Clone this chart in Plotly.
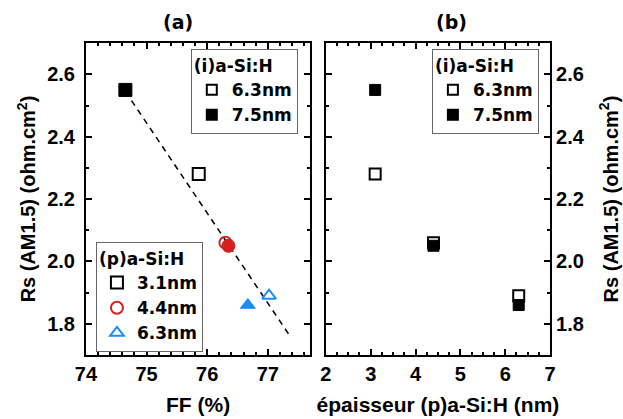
import plotly.graph_objects as go

# ---- data ----
ff_63 = [75.86, 76.30, 77.02]      # (i)a-Si:H 6.3nm, p-layers 3.1 / 4.4 / 6.3 nm
rs_63 = [2.28, 2.06, 1.89]
ff_75 = [74.65, 76.35, 76.67]      # (i)a-Si:H 7.5nm
rs_75 = [2.55, 2.05, 1.86]
p_thick = [3.1, 4.4, 6.3]          # (p)a-Si:H thickness (nm)
p_labels = ["3.1nm", "4.4nm", "6.3nm"]
p_colors = ["#000000", "#D42020", "#1E8CFF"]
p_symbols = ["square", "circle", "triangle-up"]
fit_ff = [74.65, 77.35]
fit_rs = [2.545, 1.765]

FONT = "Liberation Sans, Arial, sans-serif"
FONT2 = "DejaVu Sans, Verdana, sans-serif"

fig = go.Figure()

# dashed trend line (left panel)
fig.add_trace(go.Scatter(x=fit_ff, y=fit_rs, mode="lines",
                         line=dict(color="black", width=1.5, dash="6px,5px"),
                         showlegend=False, xaxis="x", yaxis="y"))

# left panel points
for i in range(3):
    fig.add_trace(go.Scatter(x=[ff_63[i]], y=[rs_63[i]], mode="markers",
                             marker=dict(symbol=p_symbols[i] + "-open", size=12,
                                         color=p_colors[i], line=dict(width=2, color=p_colors[i])),
                             showlegend=False, xaxis="x", yaxis="y"))
    fig.add_trace(go.Scatter(x=[ff_75[i]], y=[rs_75[i]], mode="markers",
                             marker=dict(symbol=p_symbols[i], size=13,
                                         color=p_colors[i], line=dict(width=1, color=p_colors[i])),
                             showlegend=False, xaxis="x", yaxis="y"))

# right panel points
fig.add_trace(go.Scatter(x=p_thick, y=rs_63, mode="markers",
                         marker=dict(symbol="square-open", size=11, color="black",
                                     line=dict(width=2, color="black")),
                         showlegend=False, xaxis="x2", yaxis="y2"))
fig.add_trace(go.Scatter(x=p_thick, y=rs_75, mode="markers",
                         marker=dict(symbol="square", size=11, color="black",
                                     line=dict(width=1, color="black")),
                         showlegend=False, xaxis="x2", yaxis="y2"))

# legend-only traces
for lg in ["legend", "legend3"]:
    fig.add_trace(go.Scatter(x=[None], y=[None], mode="markers", name="6.3nm",
                             marker=dict(symbol="square-open", size=10, color="black",
                                         line=dict(width=2, color="black")),
                             legend=lg, xaxis="x", yaxis="y"))
    fig.add_trace(go.Scatter(x=[None], y=[None], mode="markers", name="7.5nm",
                             marker=dict(symbol="square", size=12, color="black"),
                             legend=lg, xaxis="x", yaxis="y"))
for i in range(3):
    fig.add_trace(go.Scatter(x=[None], y=[None], mode="markers", name=p_labels[i],
                             marker=dict(symbol=p_symbols[i] + "-open", size=12,
                                         color=p_colors[i], line=dict(width=2, color=p_colors[i])),
                             legend="legend2", xaxis="x", yaxis="y"))

axis_common = dict(showline=True, linewidth=2, linecolor="black", mirror="ticks",
                   ticks="inside", ticklen=6, tickwidth=2, tickcolor="black",
                   showgrid=False, zeroline=False, automargin=False,
                   tickfont=dict(family=FONT, size=20, color="black", weight="bold"))

xtitle_font = dict(family=FONT, size=21, color="black", weight="bold")
ytitle_font = dict(family=FONT, size=20, color="black", weight="bold")
ytitle = "Rs (AM1.5) (ohm.cm<sup>2</sup>)"

legend_font = dict(family=FONT2, size=17, color="black", weight="bold")
legend_common = dict(bgcolor="white", bordercolor="#666666", borderwidth=1,
                     font=legend_font, tracegroupgap=0, itemsizing="trace",
                     itemwidth=30)

fig.update_layout(
    width=623, height=419,
    margin=dict(l=0, r=0, t=0, b=0, autoexpand=False),
    paper_bgcolor="white", plot_bgcolor="white",
    xaxis=dict(domain=[0.138, 0.498], range=[74, 77.7], dtick=1, anchor="y",
               minor=dict(dtick=0.2, ticks="inside", ticklen=3, tickwidth=1.5, tickcolor="black"),
               title=dict(text="FF (%)", font=xtitle_font, standoff=13), **axis_common),
    yaxis=dict(domain=[0.153, 0.897], range=[1.7, 2.7], dtick=0.2, tickformat=".1f", anchor="x",
               ticklabelstandoff=5,
               minor=dict(dtick=0.1, ticks="inside", ticklen=3, tickwidth=1.5, tickcolor="black"),
               title=dict(text=ytitle, font=ytitle_font, standoff=6), **axis_common),
    xaxis2=dict(domain=[0.523, 0.883], range=[2, 7], dtick=1, anchor="y2",
                minor=dict(dtick=0.25, ticks="inside", ticklen=3, tickwidth=1.5, tickcolor="black"),
                title=dict(text="épaisseur (p)a-Si:H (nm)", font=xtitle_font, standoff=13), **axis_common),
    yaxis2=dict(domain=[0.153, 0.897], range=[1.7, 2.7], dtick=0.2, tickformat=".1f",
                anchor="x2", side="right",
                minor=dict(dtick=0.1, ticks="inside", ticklen=3, tickwidth=1.5, tickcolor="black"),
                title=dict(text=ytitle, font=ytitle_font, standoff=20), **axis_common),
    legend=dict(x=0.478, y=0.883, xanchor="right", yanchor="top",
                title=dict(text="(i)a-Si:H", font=legend_font), **legend_common),
    legend2=dict(x=0.154, y=0.16, xanchor="left", yanchor="bottom",
                 title=dict(text="(p)a-Si:H", font=legend_font), **legend_common),
    legend3=dict(x=0.865, y=0.883, xanchor="right", yanchor="top",
                 title=dict(text="(i)a-Si:H", font=legend_font), **legend_common),
    annotations=[
        dict(text="(a)", x=178 / 623, y=1 - 22 / 419, xref="paper", yref="paper", showarrow=False,
             xanchor="center", yanchor="middle",
             font=dict(family=FONT2, size=19, color="black", weight="bold")),
        dict(text="(b)", x=451 / 623, y=1 - 22 / 419, xref="paper", yref="paper", showarrow=False,
             xanchor="center", yanchor="middle",
             font=dict(family=FONT2, size=19, color="black", weight="bold")),
    ],
)

fig.write_html("out.html", config={"displayModeBar": False},
               post_script="document.body.style.margin='0px';")
